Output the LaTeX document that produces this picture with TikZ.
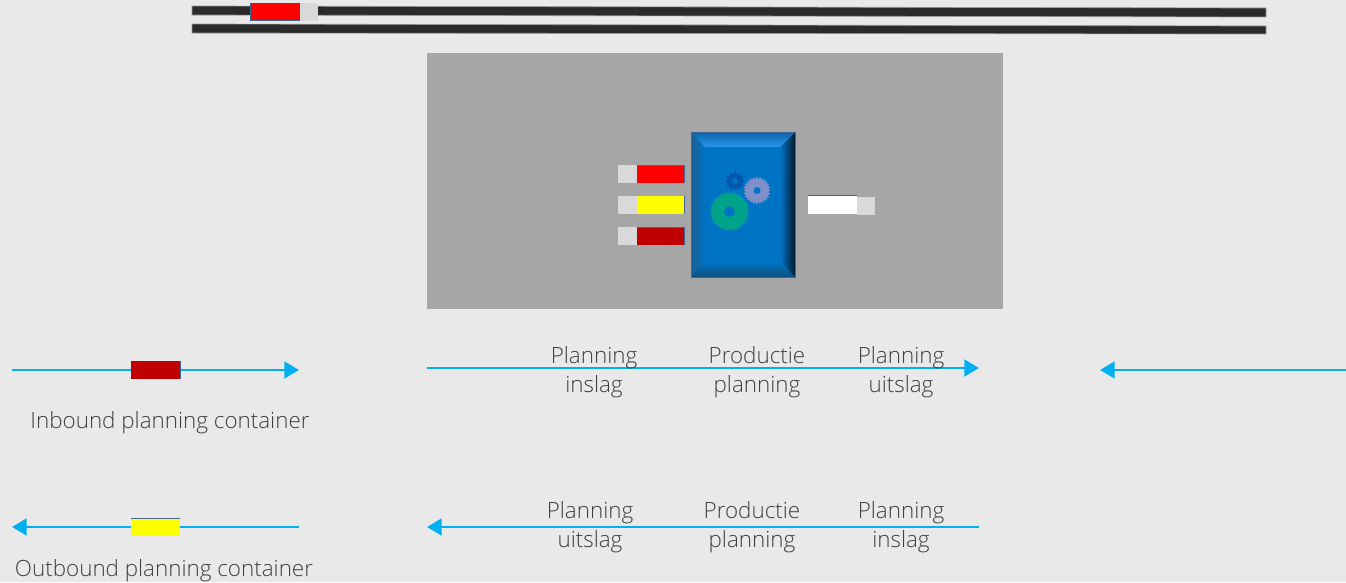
\documentclass[tikz,border=0pt]{standalone}
\usepackage{fontspec}
\setmainfont{Open Sans}[UprightFont=* Light]
\usetikzlibrary{arrows.meta}
\definecolor{pagegray}{HTML}{E9E9E9}
\definecolor{hallgray}{HTML}{A6A6A6}
\definecolor{stubgray}{HTML}{D9D9D9}
\definecolor{railblack}{HTML}{2B2B2B}
\definecolor{flowblue}{HTML}{00B0F0}
\definecolor{machineblue}{HTML}{0074C4}
\definecolor{machinelight}{HTML}{2A97EE}
\definecolor{machinetop}{HTML}{0B63A8}
\definecolor{machineside}{HTML}{1A5F92}
\definecolor{machinelow}{HTML}{0F4E7C}
\definecolor{machinedark}{HTML}{001A30}
\definecolor{edgeblue}{HTML}{3F6797}
\definecolor{darkred}{HTML}{C00000}
\definecolor{brightred}{HTML}{FF0000}
\definecolor{brightyellow}{HTML}{FFFF00}
\definecolor{geardark}{HTML}{0059AD}
\definecolor{gearlilac}{HTML}{7F8FC9}
\definecolor{geargreen}{HTML}{00A28A}
\tikzset{
	flow/.style={flowblue,line width=2.2pt,-{Triangle[length=11pt,width=12.5pt]}},
	rail/.style={fill=railblack,draw=black!40,line width=.5pt},
	label/.style={text=black!75,align=center,font=\fontsize{16.8}{21.75}\selectfont},
}
% gear: centre x, centre y, radius, hole, colour, angle between teeth
\newcommand{\gear}[6]{
	\foreach \tooth in {0,#6,...,359}
		\fill[#5,rotate around={\tooth:(#1,#2)}] (#1-.9,#2-#3-1.3) rectangle (#1+.9,#2);
	\fill[#5] (#1,#2) circle ({#3*.75pt});
	\fill[machineblue] (#1,#2) circle ({#4*.75pt});
}
\begin{document}
\begin{tikzpicture}[x=.75pt,y=-.75pt]
	\useasboundingbox (0,0) rectangle (1346,582);
	\fill[pagegray] (0,0) rectangle (1346,582);
	% rails
		\draw[rail] (192,6) -- (1266,8) -- (1266,17) -- (192,15) -- cycle;
		\draw[rail] (192,24) -- (1266,26) -- (1266,34) -- (192,33) -- cycle;
	% container on rail
		\fill[stubgray] (300,3) rectangle (318,21);
		\fill[edgeblue] (250,3) rectangle (300,21);
		\fill[brightred] (251,3) rectangle (300,20);
	% hall
		\fill[hallgray] (427,53) rectangle (1003,309);
	% machine
		\fill[machineblue] (691,132) rectangle (795,277);
		\shade[left color=machineside,right color=machineblue] (691,132) -- (705,147) -- (705,262) -- (691,277) -- cycle;
		\shade[left color=machineblue,right color=machinedark] (795,132) -- (780,147) -- (780,262) -- (795,277) -- cycle;
		\shade[top color=machinetop,bottom color=machinelight] (691,132) -- (795,132) -- (780,147) -- (705,147) -- cycle;
		\shade[top color=machineblue,bottom color=machinelow] (691,277) -- (795,277) -- (780,262) -- (705,262) -- cycle;
		\draw[edgeblue,line width=.5pt] (691,132) rectangle (795,277);
	% gears
		\gear{735}{181}{8}{2.8}{geardark}{30}
		\gear{757}{190.5}{12}{3.5}{gearlilac}{15}
		\gear{729.5}{211.5}{18}{5.5}{geargreen}{10}
	% containers left of machine
		\foreach \contY/\contColor in {165/brightred,195.5/brightyellow,227/darkred} {
			\fill[stubgray] (618,\contY) rectangle (637,\contY+18);
			\fill[edgeblue] (637,\contY) rectangle (685,\contY+18);
			\fill[\contColor] (637,\contY+.5) rectangle (684,\contY+18);
		}
	% container right of machine
		\fill[edgeblue] (808,195) rectangle (857,214);
		\fill[white] (808,196) rectangle (857,214);
		\fill[stubgray] (857,197) rectangle (875,215);
	% flow arrows
		\coordinate (inA) at (12,370);
		\coordinate (inB) at (299,370);
		\coordinate (midA) at (427,368);
		\coordinate (midB) at (979,368);
		\coordinate (farA) at (1346,370);
		\coordinate (farB) at (1100,370);
		\coordinate (outA) at (299,527);
		\coordinate (outB) at (12,527);
		\coordinate (backA) at (979,527);
		\coordinate (backB) at (427,527);
		\draw[flow] (inA) -- (inB);
		\draw[flow] (midA) -- (midB);
		\draw[flow] (farA) -- (farB);
		\draw[flow] (outA) -- (outB);
		\draw[flow] (backA) -- (backB);
	% containers on arrows
		\fill[edgeblue] (131,361) rectangle (180.5,379);
		\fill[darkred] (131,361) rectangle (180,379);
		\fill[edgeblue] (131,518) rectangle (180,536);
		\fill[brightyellow] (131,518.5) rectangle (180,535.5);
	% labels
		\node[label] (inboundlabel) at (170,423) {Inbound planning container};
		\node[label] (outboundlabel) at (164,571) {Outbound planning container};
		\node[label] (inslagtop) at (594,372) {Planning\\inslag};
		\node[label] (productietop) at (757,372) {Productie\\planning};
		\node[label] (uitslagtop) at (901,372) {Planning\\uitslag};
		\node[label] (uitslagbottom) at (590,527.5) {Planning\\uitslag};
		\node[label] (productiebottom) at (752,527.5) {Productie\\planning};
		\node[label] (inslagbottom) at (901,527.5) {Planning\\inslag};
\end{tikzpicture}
\end{document}
